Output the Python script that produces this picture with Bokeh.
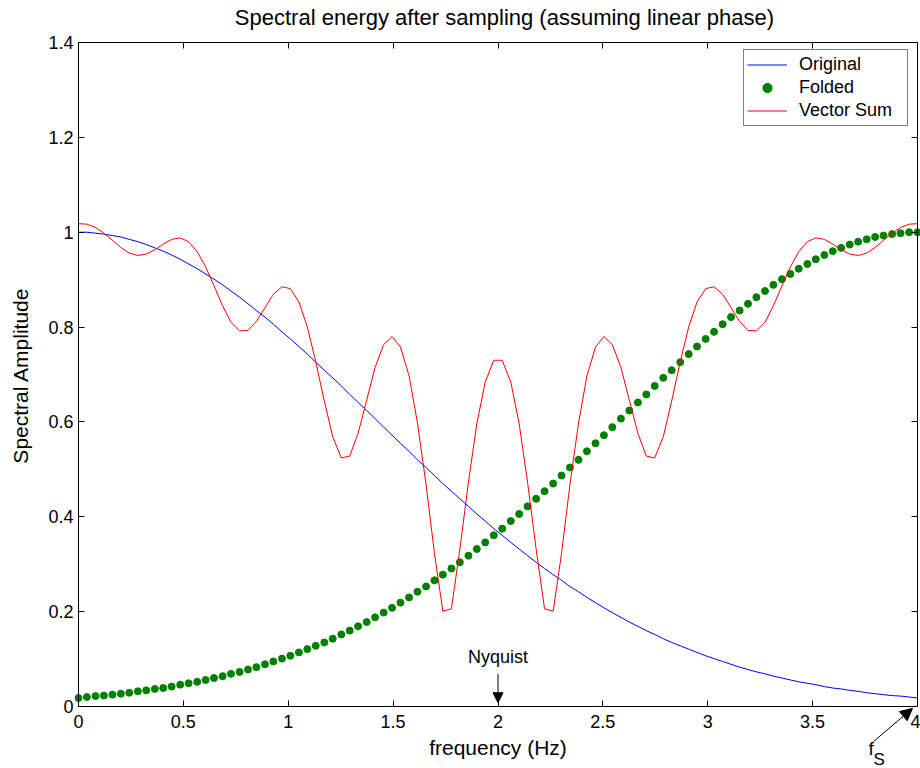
import math
from bokeh.plotting import figure
from bokeh.models import (Range1d, FixedTicker, Label, Arrow, NormalHead, LinearAxis,
                          ColumnDataSource, Legend, LegendItem)
from bokeh.embed import file_html
from bokeh.resources import INLINE

# ---- data ----
frequency = [
    0.000, 0.040, 0.081, 0.121, 0.162, 0.202, 0.242, 0.283, 0.323, 0.364,
    0.404, 0.444, 0.485, 0.525, 0.566, 0.606, 0.646, 0.687, 0.727, 0.768,
    0.808, 0.848, 0.889, 0.929, 0.970, 1.010, 1.051, 1.091, 1.131, 1.172,
    1.212, 1.253, 1.293, 1.333, 1.374, 1.414, 1.455, 1.495, 1.535, 1.576,
    1.616, 1.657, 1.697, 1.737, 1.778, 1.818, 1.859, 1.899, 1.939, 1.980,
    2.020, 2.061, 2.101, 2.141, 2.182, 2.222, 2.263, 2.303, 2.343, 2.384,
    2.424, 2.465, 2.505, 2.545, 2.586, 2.626, 2.667, 2.707, 2.747, 2.788,
    2.828, 2.869, 2.909, 2.949, 2.990, 3.030, 3.071, 3.111, 3.152, 3.192,
    3.232, 3.273, 3.313, 3.354, 3.394, 3.434, 3.475, 3.515, 3.556, 3.596,
    3.636, 3.677, 3.717, 3.758, 3.798, 3.838, 3.879, 3.919, 3.960, 4.000,
]

original = [
    1.000, 1.000, 0.998, 0.996, 0.993, 0.990, 0.985, 0.980, 0.974, 0.967,
    0.960, 0.952, 0.943, 0.933, 0.923, 0.912, 0.901, 0.889, 0.876, 0.863,
    0.849, 0.835, 0.821, 0.806, 0.790, 0.775, 0.759, 0.743, 0.726, 0.709,
    0.693, 0.676, 0.658, 0.641, 0.624, 0.607, 0.589, 0.572, 0.555, 0.538,
    0.520, 0.504, 0.487, 0.470, 0.454, 0.438, 0.422, 0.406, 0.391, 0.375,
    0.361, 0.346, 0.332, 0.318, 0.304, 0.291, 0.278, 0.266, 0.253, 0.242,
    0.230, 0.219, 0.208, 0.198, 0.188, 0.178, 0.169, 0.160, 0.152, 0.143,
    0.135, 0.128, 0.121, 0.114, 0.107, 0.101, 0.095, 0.089, 0.083, 0.078,
    0.073, 0.069, 0.064, 0.060, 0.056, 0.052, 0.049, 0.046, 0.042, 0.039,
    0.037, 0.034, 0.032, 0.029, 0.027, 0.025, 0.023, 0.022, 0.020, 0.018,
]

folded = [
    0.018, 0.020, 0.022, 0.023, 0.025, 0.027, 0.029, 0.032, 0.034, 0.037,
    0.039, 0.042, 0.046, 0.049, 0.052, 0.056, 0.060, 0.064, 0.069, 0.073,
    0.078, 0.083, 0.089, 0.095, 0.101, 0.107, 0.114, 0.121, 0.128, 0.135,
    0.143, 0.152, 0.160, 0.169, 0.178, 0.188, 0.198, 0.208, 0.219, 0.230,
    0.242, 0.253, 0.266, 0.278, 0.291, 0.304, 0.318, 0.332, 0.346, 0.361,
    0.375, 0.391, 0.406, 0.422, 0.438, 0.454, 0.470, 0.487, 0.504, 0.520,
    0.538, 0.555, 0.572, 0.589, 0.607, 0.624, 0.641, 0.658, 0.676, 0.693,
    0.709, 0.726, 0.743, 0.759, 0.775, 0.790, 0.806, 0.821, 0.835, 0.849,
    0.863, 0.876, 0.889, 0.901, 0.912, 0.923, 0.933, 0.943, 0.952, 0.960,
    0.967, 0.974, 0.980, 0.985, 0.990, 0.993, 0.996, 0.998, 1.000, 1.000,
]

vector_sum = [
    1.018, 1.017, 1.010, 0.998, 0.983, 0.968, 0.956, 0.951, 0.954, 0.963,
    0.975, 0.985, 0.988, 0.980, 0.959, 0.927, 0.887, 0.845, 0.810, 0.792,
    0.793, 0.812, 0.841, 0.869, 0.885, 0.881, 0.853, 0.800, 0.727, 0.644,
    0.569, 0.524, 0.528, 0.576, 0.646, 0.715, 0.763, 0.780, 0.758, 0.697,
    0.598, 0.468, 0.323, 0.201, 0.206, 0.331, 0.473, 0.596, 0.684, 0.730,
    0.730, 0.684, 0.596, 0.473, 0.331, 0.206, 0.201, 0.323, 0.468, 0.598,
    0.697, 0.758, 0.780, 0.763, 0.715, 0.646, 0.576, 0.528, 0.524, 0.569,
    0.644, 0.727, 0.800, 0.853, 0.881, 0.885, 0.869, 0.841, 0.812, 0.793,
    0.792, 0.810, 0.845, 0.887, 0.927, 0.959, 0.980, 0.988, 0.985, 0.975,
    0.963, 0.954, 0.951, 0.956, 0.968, 0.983, 0.998, 1.010, 1.017, 1.018,
]

x_ticks = [0, 0.5, 1, 1.5, 2, 2.5, 3, 3.5, 4]
x_tick_labels = ["0", "0.5", "1", "1.5", "2", "2.5", "3", "3.5", "4"]
y_ticks = [0, 0.2, 0.4, 0.6, 0.8, 1.0, 1.2, 1.4]
y_tick_labels = ["0", "0.2", "0.4", "0.6", "0.8", "1", "1.2", "1.4"]

title_text = "Spectral energy after sampling (assuming linear phase)"
x_label_text = "frequency (Hz)"
y_label_text = "Spectral Amplitude"

# annotation anchors (data units)
nyquist_x = 2.0
nyquist_arrow_y = [0.069, 0.008]
fs_arrow_x = [3.790, 3.976]
fs_arrow_y = [-0.074, -0.004]

# ---- layout: the axes box sits inside a full-canvas frame ----
W, H = 920, 768
BOX_L, BOX_R, BOX_T, BOX_B = 78, 917, 42, 706
X0, X1, Y0, Y1 = 0.0, 4.0, 0.0, 1.4
sx = (BOX_R - BOX_L) / (X1 - X0)
sy = (BOX_B - BOX_T) / (Y1 - Y0)
x_range = Range1d(X0 - BOX_L / sx, X1 + (W - BOX_R) / sx)
y_range = Range1d(Y0 - (H - BOX_B) / sy, Y1 + BOX_T / sy)

def px_x(px):   # screen x -> data x
    return X0 + (px - BOX_L) / sx

def px_y(py):   # screen y -> data y
    return Y0 + (BOX_B - py) / sy

FONT = "Liberation Sans"

p = figure(width=W, height=H, output_backend="svg", toolbar_location=None,
           x_range=x_range, y_range=y_range,
           min_border_left=0, min_border_right=0, min_border_top=0, min_border_bottom=0)
p.xgrid.visible = False
p.ygrid.visible = False
p.outline_line_color = None
p.background_fill_color = "white"
p.border_fill_color = "white"

src = ColumnDataSource(dict(f=frequency, o=original, fo=folded, v=vector_sum))
r_orig = p.line("f", "o", source=src, line_color="#0000ff", line_width=1)
r_fold = p.scatter("f", "fo", source=src, size=7, fill_color="#008000", line_color="#008000")
r_sum = p.line("f", "v", source=src, line_color="#ff0000", line_width=1)

def style_axis(ax, ticks, labels, loc, bounds, show_labels=True):
    ax.fixed_location = loc
    ax.bounds = bounds
    ax.ticker = FixedTicker(ticks=ticks)
    ax.major_tick_in = 6
    ax.major_tick_out = 0
    ax.minor_tick_in = 0
    ax.minor_tick_out = 0
    ax.axis_line_color = "black"
    ax.major_tick_line_color = "black"
    ax.major_label_text_font = FONT
    if show_labels:
        ax.major_label_overrides = {t: l for t, l in zip(ticks, labels)}
        ax.major_label_text_font_size = "18px"
        ax.major_label_text_color = "black"
    else:
        ax.major_label_overrides = {t: "" for t in ticks}
        ax.major_label_text_font_size = "8px"
        ax.major_label_text_color = None

xa = p.xaxis[0]
style_axis(xa, x_ticks, x_tick_labels, Y0, (X0, X1))
xa.major_label_standoff = 8
ya = p.yaxis[0]
style_axis(ya, y_ticks, y_tick_labels, X0, (Y0, Y1))
ya.major_label_standoff = 5

top = LinearAxis()
style_axis(top, x_ticks, x_tick_labels, Y1, (X0, X1), show_labels=False)
p.add_layout(top, "above")
right = LinearAxis()
style_axis(right, y_ticks, y_tick_labels, X1, (Y0, Y1), show_labels=False)
p.add_layout(right, "right")

# title and axis labels
p.add_layout(Label(x=px_x(504), y=px_y(17), text=title_text, text_align="center",
                   text_baseline="alphabetic", text_font=FONT, text_font_size="22px",
                   text_color="black"))
p.add_layout(Label(x=(X0 + X1) / 2, y=px_y(747), text=x_label_text, text_align="center",
                   text_baseline="alphabetic", text_font=FONT, text_font_size="21px",
                   text_color="black"))
p.add_layout(Label(x=px_x(20), y=px_y(375), text=y_label_text, text_align="center",
                   text_baseline="alphabetic", angle=math.pi / 2, text_font=FONT,
                   text_font_size="21px", text_color="black"))

legend = Legend(items=[LegendItem(label="Original", renderers=[r_orig]),
                       LegendItem(label="Folded", renderers=[r_fold]),
                       LegendItem(label="Vector Sum", renderers=[r_sum])],
                location=(743, H - 126))
legend.label_text_font = FONT
legend.label_text_font_size = "18px"
legend.label_text_color = "black"
legend.border_line_color = "black"
legend.border_line_width = 1
legend.background_fill_color = "white"
legend.background_fill_alpha = 1
legend.padding = 3
legend.spacing = 0
legend.margin = 0
legend.label_height = 23
legend.glyph_height = 23
legend.glyph_width = 40
legend.label_standoff = 12
legend.label_width = 105
p.add_layout(legend)

# Nyquist annotation
p.add_layout(Label(x=nyquist_x, y=px_y(656), text="Nyquist", text_align="center",
                   text_baseline="alphabetic", text_font=FONT, text_font_size="18px",
                   text_color="black"))
p.add_layout(Arrow(x_start=nyquist_x, y_start=nyquist_arrow_y[0],
                   x_end=nyquist_x, y_end=nyquist_arrow_y[1], line_width=1, line_color="black",
                   end=NormalHead(size=10, fill_color="black", line_color="black")))

# f_S annotation
p.add_layout(Arrow(x_start=fs_arrow_x[0], y_start=fs_arrow_y[0],
                   x_end=fs_arrow_x[1], y_end=fs_arrow_y[1], line_width=1, line_color="black",
                   end=NormalHead(size=12, fill_color="black", line_color="black")))
p.add_layout(Label(x=px_x(868), y=px_y(748), text="f", text_align="left",
                   text_baseline="alphabetic", text_font=FONT, text_font_size="19px",
                   text_color="black"))
p.add_layout(Label(x=px_x(873), y=px_y(759), text="S", text_align="left",
                   text_baseline="alphabetic", text_font=FONT, text_font_size="17px",
                   text_color="black"))

open("out.html", "w").write(file_html(p, INLINE))
